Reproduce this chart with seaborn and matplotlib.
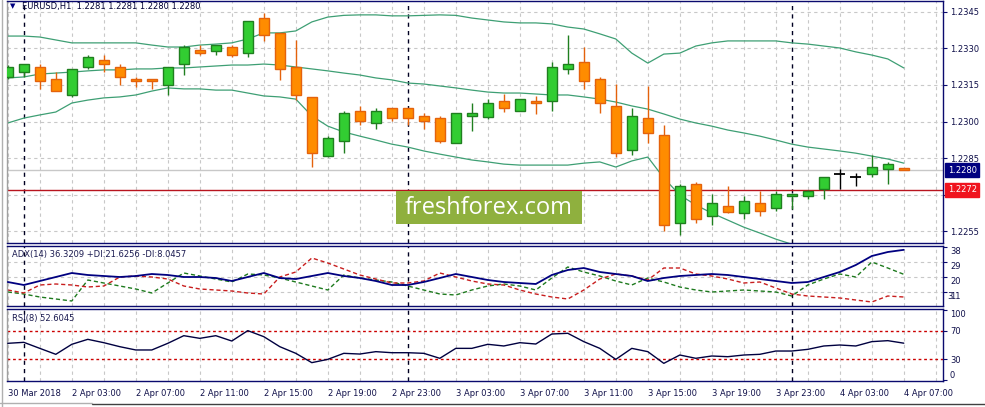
import numpy as np
import pandas as pd
import matplotlib
matplotlib.use('Agg')
import matplotlib.pyplot as plt
import seaborn as sns
from matplotlib.patches import Rectangle
from matplotlib.lines import Line2D

sns.set_style('white')
plt.rcParams['font.family'] = ['DejaVu Sans']

# EURUSD H1 candles, 30 Mar 23:00 .. 4 Apr 07:00
opens = [1.23183, 1.23203, 1.23224, 1.23175, 1.23109, 1.23224, 1.23253, 1.23224, 1.23175, 1.23175,
         1.23150, 1.23236, 1.23294, 1.23290, 1.23306, 1.23281, 1.23425, 1.23364, 1.23224, 1.23101,
         1.22858, 1.22920, 1.23043, 1.22994, 1.23055, 1.23055, 1.23023, 1.23014, 1.22912, 1.23023,
         1.23018, 1.23084, 1.23043, 1.23084, 1.23084, 1.23216, 1.23245, 1.23175, 1.23064, 1.22883,
         1.23014, 1.22944, 1.22583, 1.22743, 1.22612, 1.22653, 1.22624, 1.22665, 1.22644, 1.22694,
         1.22694, 1.22723, 1.22784, 1.22772, 1.22784, 1.22805, 1.22810]
highs = [1.23232, 1.23236, 1.23236, 1.23203, 1.23216, 1.23273, 1.23273, 1.23236, 1.23183, 1.23175,
         1.23224, 1.23314, 1.23314, 1.23314, 1.23314, 1.23413, 1.23446, 1.23364, 1.23335, 1.23101,
         1.22940, 1.23043, 1.23064, 1.23055, 1.23055, 1.23055, 1.23035, 1.23023, 1.23035, 1.23076,
         1.23092, 1.23113, 1.23092, 1.23105, 1.23245, 1.23355, 1.23306, 1.23183, 1.23154, 1.23055,
         1.23146, 1.22986, 1.22743, 1.22751, 1.22702, 1.22735, 1.22694, 1.22714, 1.22714, 1.22702,
         1.22718, 1.22772, 1.22805, 1.22788, 1.22862, 1.22834, 1.22810]
lows = [1.23175, 1.23183, 1.23134, 1.23125, 1.23101, 1.23216, 1.23203, 1.23150, 1.23142, 1.23134,
        1.23109, 1.23191, 1.23273, 1.23273, 1.23265, 1.23265, 1.23331, 1.23171, 1.23088, 1.22813,
        1.22854, 1.22870, 1.22986, 1.22969, 1.23002, 1.22986, 1.22969, 1.22912, 1.22912, 1.22961,
        1.23010, 1.23039, 1.23043, 1.23031, 1.23043, 1.23195, 1.23134, 1.23035, 1.22854, 1.22862,
        1.22912, 1.22550, 1.22534, 1.22583, 1.22575, 1.22624, 1.22599, 1.22612, 1.22632, 1.22640,
        1.22681, 1.22681, 1.22723, 1.22735, 1.22772, 1.22743, 1.22800]
closes = [1.23224, 1.23236, 1.23166, 1.23125, 1.23216, 1.23265, 1.23236, 1.23183, 1.23166, 1.23166,
          1.23224, 1.23306, 1.23281, 1.23314, 1.23273, 1.23413, 1.23355, 1.23216, 1.23109, 1.22870,
          1.22932, 1.23035, 1.23002, 1.23043, 1.23014, 1.23014, 1.23002, 1.22920, 1.23035, 1.23035,
          1.23076, 1.23055, 1.23092, 1.23076, 1.23224, 1.23236, 1.23166, 1.23076, 1.22870, 1.23023,
          1.22953, 1.22575, 1.22735, 1.22599, 1.22665, 1.22628, 1.22673, 1.22632, 1.22702, 1.22702,
          1.22714, 1.22772, 1.22784, 1.22772, 1.22813, 1.22825, 1.22800]

# Bollinger bands
bb_upper = [1.23351, 1.23351, 1.23347, 1.23335, 1.23323, 1.23323, 1.23323, 1.23323, 1.23323, 1.23314,
            1.23306, 1.23306, 1.23314, 1.23318, 1.23323, 1.23339, 1.23364, 1.23364, 1.23372, 1.23409,
            1.23429, 1.23436, 1.23438, 1.23438, 1.23434, 1.23434, 1.23436, 1.23438, 1.23436, 1.23425,
            1.23417, 1.23409, 1.23405, 1.23405, 1.23401, 1.23388, 1.23380, 1.23360, 1.23339, 1.23281,
            1.23240, 1.23277, 1.23281, 1.23310, 1.23323, 1.23331, 1.23331, 1.23331, 1.23331, 1.23323,
            1.23318, 1.23310, 1.23302, 1.23286, 1.23273, 1.23257, 1.23220]
bb_middle = [1.23179, 1.23183, 1.23195, 1.23199, 1.23203, 1.23208, 1.23212, 1.23212, 1.23216, 1.23216,
             1.23220, 1.23220, 1.23224, 1.23228, 1.23232, 1.23232, 1.23236, 1.23232, 1.23224, 1.23216,
             1.23208, 1.23199, 1.23191, 1.23179, 1.23171, 1.23158, 1.23154, 1.23146, 1.23138, 1.23129,
             1.23121, 1.23117, 1.23117, 1.23113, 1.23109, 1.23109, 1.23101, 1.23092, 1.23080, 1.23064,
             1.23051, 1.23031, 1.23010, 1.22994, 1.22981, 1.22965, 1.22953, 1.22940, 1.22924, 1.22907,
             1.22895, 1.22887, 1.22879, 1.22870, 1.22858, 1.22846, 1.22829]
bb_lower = [1.22994, 1.23014, 1.23027, 1.23039, 1.23076, 1.23088, 1.23097, 1.23101, 1.23109, 1.23125,
            1.23138, 1.23134, 1.23134, 1.23129, 1.23129, 1.23117, 1.23105, 1.23101, 1.23092, 1.23023,
            1.22981, 1.22957, 1.22940, 1.22924, 1.22907, 1.22895, 1.22879, 1.22866, 1.22854, 1.22842,
            1.22834, 1.22825, 1.22821, 1.22821, 1.22821, 1.22821, 1.22829, 1.22834, 1.22813, 1.22838,
            1.22854, 1.22768, 1.22698, 1.22657, 1.22624, 1.22595, 1.22566, 1.22542, 1.22517, 1.22496,
            1.22480, 1.22464, 1.22451, 1.22443, 1.22435, 1.22427, 1.22418]

# ADX(14) and DI lines
adx = [17.0, 15.2, 17.6, 20.0, 22.4, 21.2, 20.6, 20.0, 20.6, 21.8,
       21.2, 20.0, 20.0, 19.4, 17.6, 20.0, 22.4, 19.4, 18.8, 20.6,
       22.4, 20.6, 19.4, 17.6, 15.2, 15.2, 17.0, 19.4, 21.8, 20.0,
       18.2, 17.0, 16.4, 15.8, 21.2, 24.2, 25.4, 23.0, 21.8, 20.6,
       17.6, 19.4, 20.6, 21.2, 21.8, 21.2, 20.0, 18.8, 17.6, 16.4,
       17.0, 20.0, 23.0, 27.2, 32.6, 35.0, 36.3]
plus_di = [11.0, 9.8, 8.0, 6.8, 5.6, 18.2, 16.4, 14.6, 12.8, 10.4,
           16.4, 22.4, 20.6, 18.8, 17.0, 21.8, 21.2, 19.4, 17.0, 14.6,
           12.2, 21.2, 19.4, 18.2, 17.0, 14.6, 12.2, 9.8, 9.2, 12.2,
           14.6, 15.8, 14.6, 12.2, 19.4, 26.0, 23.0, 20.6, 17.6, 15.2,
           19.4, 17.0, 14.0, 12.2, 11.0, 11.6, 12.2, 11.6, 11.0, 8.6,
           15.2, 18.8, 21.8, 20.0, 29.0, 25.4, 21.6]
minus_di = [12.2, 10.4, 15.2, 15.8, 15.2, 14.0, 14.6, 20.0, 20.6, 20.0,
            18.8, 14.6, 12.8, 12.2, 11.6, 10.4, 9.8, 20.0, 23.0, 31.4,
            28.4, 24.8, 21.2, 18.8, 16.4, 16.4, 17.6, 22.4, 20.0, 17.6,
            15.8, 15.2, 12.2, 9.8, 8.0, 6.8, 12.2, 18.8, 21.8, 20.6,
            18.2, 25.4, 25.4, 21.8, 20.6, 18.8, 16.4, 17.0, 13.4, 9.8,
            8.6, 8.0, 7.4, 6.2, 5.0, 8.6, 8.0]

# RSI(8)
rsi = [52.4, 53.8, 45.2, 36.7, 51.0, 58.1, 53.3, 47.6, 42.9, 42.9,
       52.4, 63.3, 59.5, 63.3, 55.7, 70.5, 61.9, 47.6, 38.1, 24.8,
       29.5, 38.1, 37.1, 40.5, 39.0, 39.0, 38.1, 31.0, 45.2, 45.2,
       51.0, 48.6, 53.3, 51.4, 65.7, 66.7, 54.8, 45.2, 29.5, 45.2,
       40.5, 23.8, 35.7, 31.0, 34.3, 33.3, 35.7, 36.7, 41.4, 41.4,
       43.8, 48.6, 50.0, 48.6, 54.8, 56.2, 52.6]

time_labels = ['30 Mar 2018', '2 Apr 03:00', '2 Apr 07:00', '2 Apr 11:00', '2 Apr 15:00',
               '2 Apr 19:00', '2 Apr 23:00', '3 Apr 03:00', '3 Apr 07:00', '3 Apr 11:00',
               '3 Apr 15:00', '3 Apr 19:00', '3 Apr 23:00', '4 Apr 03:00', '4 Apr 07:00']
label_bars = list(range(0, 57, 4))
day_breaks = [1, 25, 49]
price_ticks = [1.2255, 1.2270, 1.2285, 1.2300, 1.2315, 1.2330, 1.2345]
adx_ticks = [11, 20, 29, 38]
rsi_ticks = [0, 30, 70, 100]
bid = 1.2280
level = 1.2272

NAVY = '#0a0a6e'
GRID = '#c8c8c8'
BULL, BULL_EDGE = '#32cd32', '#1f7f1f'
BEAR, BEAR_EDGE = '#ff8c00', '#e4620c'
BAND = '#3e9f74'

W, H = 985, 407
fig = plt.figure(figsize=(W / 100, H / 100), dpi=100)


def box(x0, y0, x1, y1):
    return [x0 / W, 1 - y1 / H, (x1 - x0) / W, (y1 - y0) / H]


ax = fig.add_axes(box(7, 1, 943, 243))
ax_adx = fig.add_axes(box(7, 246, 943, 306), sharex=ax)
ax_rsi = fig.add_axes(box(7, 309, 943, 381), sharex=ax)

bars = np.arange(len(opens))

for a in (ax, ax_adx, ax_rsi):
    for x in range(0, 59, 2):
        a.axvline(x, color=GRID, lw=0.8, ls=(0, (3, 3)), zorder=0)
    for x in day_breaks:
        a.axvline(x, color='#000022', lw=1, ls=(0, (3, 3)), zorder=1)
    for s in a.spines.values():
        s.set_color(NAVY)
        s.set_linewidth(1)
    a.spines['left'].set_color('#a0a0a0')
    a.yaxis.tick_right()
    a.tick_params(axis='y', length=3, width=0.8, color=NAVY, labelcolor='#10104a',
                  labelsize=6, pad=2)

# price panel
for p in price_ticks:
    ax.axhline(p, color=GRID, lw=0.8, ls=(0, (3, 3)), zorder=0)
ax.axhline(bid, color='#c8c8c8', lw=1, zorder=1)
ax.axhline(level, color='#b8141e', lw=1, zorder=1)

bands = pd.DataFrame({'bar': bars, 'upper': bb_upper, 'middle': bb_middle, 'lower': bb_lower})
for col in ['upper', 'middle', 'lower']:
    sns.lineplot(data=bands, x='bar', y=col, ax=ax, color=BAND, lw=0.9, zorder=2)

for i in bars:
    o, h, l, c = opens[i], highs[i], lows[i], closes[i]
    if c > o:
        fill, edge = BULL, BULL_EDGE
    elif c < o:
        fill, edge = BEAR, BEAR_EDGE
    else:
        fill, edge = 'black', 'black'
    ax.vlines(i, l, h, color=edge, lw=1, zorder=3)
    if c == o:
        ax.hlines(o, i - 0.35, i + 0.35, color='black', lw=1.3, zorder=4)
    else:
        ax.bar(i, abs(c - o), bottom=min(o, c), width=0.62, color=fill,
               edgecolor=edge, lw=1, zorder=4)

ax.set_xlim(-0.05, 58.45)
ax.set_ylim(1.22501, 1.23495)
ax.set_yticks(price_ticks)
ax.set_yticklabels([f'{p:.4f}' for p in price_ticks])
ax.tick_params(axis='x', bottom=False, labelbottom=False)
ax.set_xlabel('')
ax.set_ylabel('')

ytr = ax.get_yaxis_transform()
ax.text(1.0053, bid, f'{bid:.4f}', transform=ytr, ha='left', va='center', color='white',
        fontsize=6, bbox=dict(boxstyle='square,pad=0.3', fc='#000080', ec='#000080'), clip_on=False)
ax.text(1.0053, level, f'{level:.4f}', transform=ytr, ha='left', va='center', color='white',
        fontsize=6, bbox=dict(boxstyle='square,pad=0.3', fc='#f0141e', ec='#f0141e'), clip_on=False)

# ADX panel
for v in adx_ticks[:3]:
    ax_adx.axhline(v, color=GRID, lw=0.8, ls=(0, (3, 3)), zorder=0)
sns.lineplot(x=bars, y=adx, ax=ax_adx, color='#000080', lw=1.3, zorder=3)
sns.lineplot(x=bars, y=plus_di, ax=ax_adx, color='#1e7a1e', lw=1, linestyle=(0, (3, 2)), zorder=2)
sns.lineplot(x=bars, y=minus_di, ax=ax_adx, color='#c81e1e', lw=1, linestyle=(0, (3, 2)), zorder=2)
ax_adx.set_ylim(2.6, 38.6)
ax_adx.set_yticks(adx_ticks)
ax_adx.set_yticklabels([str(v) for v in adx_ticks])
for lbl in ax_adx.get_yticklabels():
    lbl.set_verticalalignment('top')
ax_adx.text(1.0045, 11, '3', transform=ax_adx.get_yaxis_transform(), ha='left', va='top',
            fontsize=6, color='#10104a', clip_on=False)
ax_adx.tick_params(axis='x', bottom=False, labelbottom=False)
ax_adx.set_xlabel('')
ax_adx.set_ylabel('')

# RSI panel
for v in (30, 70):
    ax_rsi.axhline(v, color='#cc0000', lw=1, ls=(0, (2, 2)), zorder=1)
sns.lineplot(x=bars, y=rsi, ax=ax_rsi, color='#000040', lw=1, zorder=3)
ax_rsi.set_ylim(-1.4, 101.4)
ax_rsi.set_yticks(rsi_ticks)
ax_rsi.set_yticklabels([str(v) for v in rsi_ticks])
rl = ax_rsi.get_yticklabels()
rl[0].set_verticalalignment('bottom')
rl[-1].set_verticalalignment('top')
ax_rsi.set_xticks(label_bars)
ax_rsi.set_xticklabels(time_labels, ha='left')
ax_rsi.tick_params(axis='x', length=4, width=0.8, color=NAVY, labelcolor='#10104a',
                   labelsize=6, pad=2)
ax_rsi.set_xlabel('')
ax_rsi.set_ylabel('')
ax_rsi.set_xlim(-0.05, 58.45)

# titles
fig.text(10 / W, 1 - 6 / H, '\u25bc', fontsize=5, color='#000080', va='center')
fig.text(22 / W, 1 - 6.5 / H, 'EURUSD,H1  1.2281 1.2281 1.2280 1.2280', fontsize=6,
         color='#000033', va='center')
fig.text(12 / W, 1 - 254 / H, 'ADX(14) 36.3209 +DI:21.6256 -DI:8.0457', fontsize=6,
         color='#1a1a50', va='center')
fig.text(12 / W, 1 - 318 / H, 'RSI(8) 52.6045', fontsize=6, color='#1a1a50', va='center')

# watermark
fig.add_artist(Rectangle((396 / W, 1 - 224 / H), 186 / W, 33 / H, transform=fig.transFigure,
                         fc='#8fb03e', ec='none', zorder=10))
fig.text(489 / W, 1 - 208 / H, 'freshforex.com', fontsize=17, color='white', ha='center',
         va='center', family=['Open Sans', 'DejaVu Sans'], zorder=11)

# window frame bits
fig.add_artist(Line2D([1.5 / W, 1.5 / W], [0, 1], transform=fig.transFigure, color='#b0b0b0', lw=1))
fig.add_artist(Line2D([92 / W, 1], [1 - 404 / H, 1 - 404 / H], transform=fig.transFigure,
                      color='#404040', lw=1))
fig.add_artist(Line2D([0, 92 / W], [1 - 403 / H, 1 - 403 / H], transform=fig.transFigure,
                      color='#b0b0b0', lw=1))

fig.savefig('out.png', dpi=100)
